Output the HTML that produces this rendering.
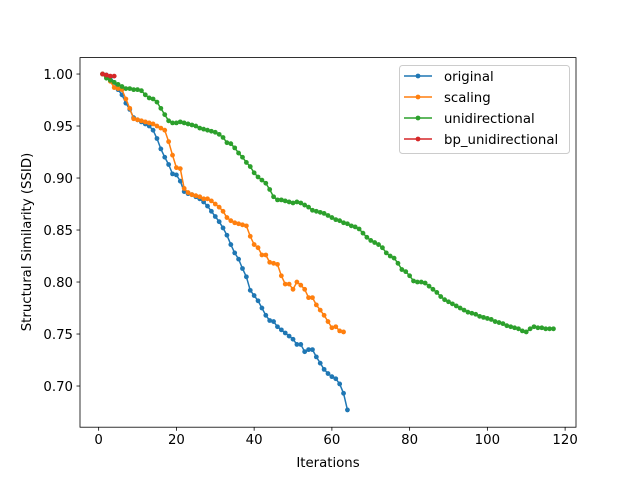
<!DOCTYPE html>
<html><head><meta charset="utf-8"><style>
body{margin:0;background:#fff;}
svg text{font-family:"DejaVu Sans","Liberation Sans",sans-serif;font-size:13.3px;fill:#000;}
</style></head><body>
<svg id="chart" width="640" height="480" xmlns="http://www.w3.org/2000/svg">
<rect width="640" height="480" fill="#fff"/>
<g id="grid"></g>
<g id="series"></g>
<rect x="80" y="57.6" width="496" height="369.6" fill="none" stroke="#000" stroke-width="0.8"/>
<g id="axes"></g>
<text x="328" y="467" text-anchor="middle">Iterations</text>
<text transform="translate(31,242) rotate(-90)" text-anchor="middle">Structural Similarity (SSID)</text>
<g id="legend"></g>
</svg>
<script>
const xTicks=[0,20,40,60,80,100,120];
const yTicks=[0.70,0.75,0.80,0.85,0.90,0.95,1.00];
const yTickLabels=["0.70","0.75","0.80","0.85","0.90","0.95","1.00"];
const seriesNames=["original","scaling","unidirectional","bp_unidirectional"];
const seriesColors=["#1f77b4","#ff7f0e","#2ca02c","#d62728"];
const original=[1.0,0.999,0.997,0.992,0.985,0.980,0.972,0.966,0.958,0.956,0.954,0.952,0.950,0.946,0.938,0.928,0.920,0.913,0.904,0.903,0.897,0.887,0.885,0.884,0.882,0.880,0.877,0.873,0.868,0.863,0.858,0.852,0.845,0.836,0.828,0.822,0.813,0.805,0.792,0.787,0.782,0.775,0.768,0.763,0.762,0.757,0.754,0.751,0.748,0.745,0.740,0.740,0.733,0.735,0.735,0.728,0.722,0.716,0.712,0.709,0.707,0.702,0.693,0.677];
const scaling=[1.0,0.997,0.993,0.987,0.986,0.985,0.976,0.967,0.957,0.956,0.955,0.954,0.953,0.952,0.950,0.948,0.946,0.935,0.922,0.910,0.909,0.890,0.886,0.884,0.883,0.882,0.880,0.880,0.878,0.875,0.872,0.868,0.862,0.859,0.857,0.856,0.855,0.854,0.844,0.836,0.833,0.826,0.826,0.819,0.818,0.817,0.806,0.798,0.798,0.793,0.800,0.797,0.793,0.785,0.785,0.778,0.773,0.768,0.762,0.756,0.757,0.753,0.752];
const unidirectional=[1.0,0.996,0.994,0.992,0.990,0.988,0.986,0.986,0.985,0.985,0.984,0.980,0.977,0.976,0.973,0.967,0.961,0.955,0.953,0.953,0.954,0.953,0.952,0.951,0.950,0.948,0.947,0.946,0.945,0.944,0.942,0.939,0.934,0.933,0.929,0.924,0.920,0.915,0.911,0.905,0.901,0.898,0.895,0.889,0.882,0.879,0.879,0.878,0.877,0.876,0.877,0.876,0.874,0.872,0.869,0.868,0.867,0.866,0.864,0.862,0.860,0.859,0.857,0.856,0.854,0.853,0.851,0.847,0.843,0.840,0.838,0.836,0.833,0.828,0.825,0.823,0.818,0.812,0.810,0.806,0.801,0.800,0.800,0.799,0.796,0.793,0.790,0.786,0.783,0.781,0.779,0.777,0.775,0.773,0.771,0.770,0.769,0.767,0.766,0.765,0.764,0.762,0.761,0.760,0.758,0.757,0.756,0.755,0.753,0.752,0.755,0.757,0.756,0.756,0.755,0.755,0.755];
const bpUnidirectional=[1.0,0.999,0.998,0.998];
const allSeries=[original,scaling,unidirectional,bpUnidirectional];

const L=80,R=576,T=57.6,B=427.2;
const xMin=-4.8,xMax=122.8,yMin=0.6604,yMax=1.0158;
const xs=v=>L+(v-xMin)/(xMax-xMin)*(R-L);
const ys=v=>B-(v-yMin)/(yMax-yMin)*(B-T);
const NS="http://www.w3.org/2000/svg";
function mk(tag,attrs,parent){const e=document.createElementNS(NS,tag);for(const k in attrs)e.setAttribute(k,attrs[k]);parent.appendChild(e);return e;}
const axes=document.getElementById('axes');
xTicks.forEach(t=>{
  const x=xs(t);
  const ln=mk('line',{x1:x,x2:x,y1:B,y2:B+3.5,stroke:'#000','stroke-width':0.8},axes);
  
  
  const tx=mk('text',{x:x,y:B+17,'text-anchor':'middle'},axes);
  tx.textContent=t;
  
  
});
yTicks.forEach((t,i)=>{
  const y=ys(t);
  const ln=mk('line',{x1:L-3.5,x2:L,y1:y,y2:y,stroke:'#000','stroke-width':0.8},axes);
  
  
  const tx=mk('text',{x:L-7,y:y+4.8,'text-anchor':'end'},axes);
  tx.textContent=yTickLabels[i];
  
  
});
const sg=document.getElementById('series');
allSeries.forEach((data,si)=>{
  const g=mk('g',{},sg);
  
  
  const pts=data.map((v,i)=>xs(i+1).toFixed(2)+','+ys(v).toFixed(2)).join(' ');
  const pl=mk('polyline',{points:pts,fill:'none',stroke:seriesColors[si],'stroke-width':1.5,'stroke-linejoin':'round'},g);
  
  
  data.forEach((v,i)=>{
    const c=mk('circle',{cx:xs(i+1),cy:ys(v),r:2.4,fill:seriesColors[si]},g);
    
    
  });
});
const lg=document.getElementById('legend');


mk('rect',{x:399.5,y:65.5,width:170,height:88,rx:3,fill:'#fff','fill-opacity':0.8,stroke:'#ccc','stroke-width':1},lg);
seriesNames.forEach((n,i)=>{
  const y=76+i*21;
  const e=mk('g',{},lg);
  
  
  mk('line',{x1:404,x2:432,y1:y,y2:y,stroke:seriesColors[i],'stroke-width':1.5},e);
  mk('circle',{cx:418,cy:y,r:2.4,fill:seriesColors[i]},e);
  const t=mk('text',{x:444,y:y+4.8},e);
  t.textContent=n;
});
</script>
</body></html>
